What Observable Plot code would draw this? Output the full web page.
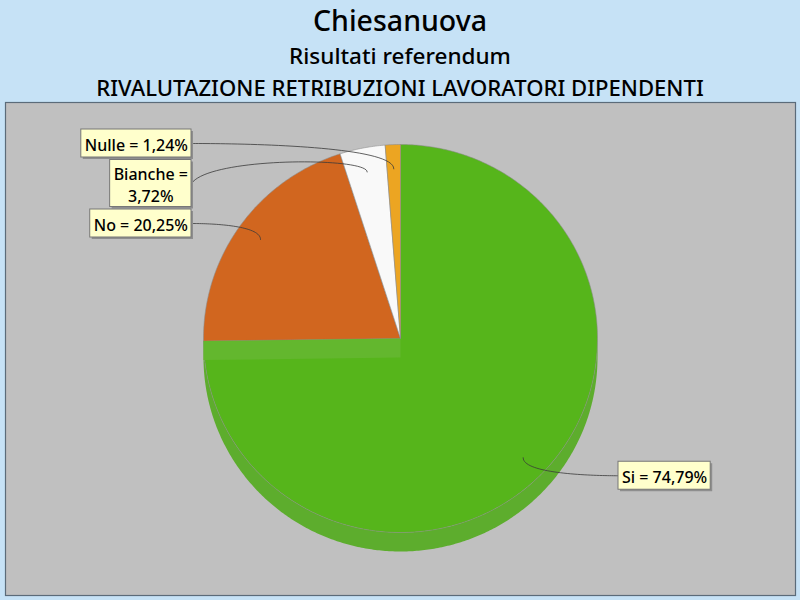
<!DOCTYPE html>
<html>
<head>
<meta charset="utf-8">
<script src="https://cdn.jsdelivr.net/npm/d3@7"></script>
<script src="https://cdn.jsdelivr.net/npm/@observablehq/plot@0.6"></script>
<style>
  body { margin: 0; background: #c6e2f6; font-family: 'Noto Sans', sans-serif; }
  #wrap { width: 800px; height: 600px; position: relative; overflow: hidden; background: #c6e2f6; }
  .t { position: absolute; left: 0; width: 800px; text-align: center; color: #000; white-space: nowrap; font-weight: 500; }
  #chart { position: absolute; left: 0; top: 100px; }
</style>
</head>
<body>
<div id="wrap">
  <div class="t" id="t1"></div>
  <div class="t" id="t2"></div>
  <div class="t" id="t3"></div>
  <div id="chart"></div>
</div>
<script>
// ---------- data ----------
const titleLines = ["Chiesanuova", "Risultati referendum", "RIVALUTAZIONE RETRIBUZIONI LAVORATORI DIPENDENTI"];
const categories = ["Si", "No", "Bianche", "Nulle"];
const percentages = [74.79, 20.25, 3.72, 1.24];
const sliceColors = ["#56b51b", "#d1661f", "#f9f9f9", "#eca522"];
const sideColors = ["#5dad2d", "#b85a1c", "#dcdcdc", "#d08f1c"];

// ---------- titles ----------
const titleStyle = [
  {size: 28.5, center: 20},
  {size: 22.5, center: 55},
  {size: 22.1, center: 87}
];
titleLines.forEach((txt, i) => {
  const el = document.getElementById("t" + (i + 1));
  const s = titleStyle[i];
  const lh = Math.round(s.size * 1.3);
  el.textContent = txt;
  el.style.fontSize = s.size + "px";
  el.style.lineHeight = lh + "px";
  el.style.top = (s.center - lh / 2) + "px";
});

// ---------- geometry ----------
const cx = 400, cy = 338, rx = 197, ry = 194, depth = 19;
const total = d3.sum(percentages);
const TAU = Math.PI * 2;
const slices = [];
let acc = 0;
categories.forEach((c, i) => {
  const a0 = acc / total * TAU;
  acc += percentages[i];
  const a1 = acc / total * TAU;
  slices.push({cat: c, pct: percentages[i], a0, a1, color: sliceColors[i], side: sideColors[i]});
});
const pt = (a, k = 1, dy = 0) => ({x: cx + k * rx * Math.sin(a), y: cy - k * ry * Math.cos(a) + dy});
function arcPts(a0, a1, dy = 0) {
  const n = Math.max(2, Math.ceil(Math.abs(a1 - a0) / 0.01));
  const out = [];
  for (let j = 0; j <= n; j++) out.push(pt(a0 + (a1 - a0) * j / n, 1, dy));
  return out;
}

// side walls (front half)
const sideRows = [];
slices.forEach(s => {
  const lo = Math.max(s.a0, Math.PI / 2), hi = Math.min(s.a1, 3 * Math.PI / 2);
  if (lo < hi) {
    const top = arcPts(lo, hi, 0), bot = arcPts(hi, lo, depth);
    [...top, ...bot].forEach(p => sideRows.push({key: s.cat, x: p.x, y: p.y, fill: s.side}));
  }
});
// top faces
const topRows = [];
slices.forEach(s => {
  const pts = [{x: cx, y: cy}, ...arcPts(s.a0, s.a1), {x: cx, y: cy}];
  pts.forEach(p => topRows.push({key: s.cat, x: p.x, y: p.y, fill: s.color}));
});
// radial wall drawn at the end of the first slice
const wallRows = [];
{
  const s = slices[0];
  const e = pt(s.a1);
  [{x: cx, y: cy}, e, {x: e.x, y: e.y + depth}, {x: cx, y: cy + depth}]
    .forEach(p => wallRows.push({key: "wall", x: p.x, y: p.y, fill: "#63b72e"}));
}

// ---------- labels ----------
const fontPx = 16;
const fontFam = "'Noto Sans', sans-serif";
const ctx = document.createElement("canvas").getContext("2d");
ctx.font = `500 ${fontPx}px ${fontFam}`;
const fmt = v => v.toFixed(2).replace(".", ",") + "%";
const labels = slices.map(s => {
  const full = `${s.cat} = ${fmt(s.pct)}`;
  let lines = [full];
  if (ctx.measureText(full).width > 114) lines = [`${s.cat} =`, fmt(s.pct)];
  const w = Math.max(...lines.map(l => ctx.measureText(l).width)) + 7;
  const h = 28 + 19 * (lines.length - 1);
  const mid = (s.a0 + s.a1) / 2;
  const anchor = pt(mid, 0.875);
  return {s, lines, text: lines.join("\n"), w, h, mid, anchor, left: mid > Math.PI};
});
// left stack (top-down, by angle descending)
let yTop = cy - ry - 15;
labels.filter(l => l.left).sort((a, b) => b.mid - a.mid).forEach(l => {
  l.x2 = cx - rx - 12; l.x1 = l.x2 - l.w;
  l.y1 = yTop; l.y2 = yTop + l.h; yTop = l.y2 + 2.5;
  l.attach = {x: l.x2, y: (l.y1 + l.y2) / 2};
});
labels.filter(l => !l.left).forEach(l => {
  l.x1 = cx + rx + 21; l.x2 = l.x1 + l.w;
  const yc = l.anchor.y + 18;
  l.y1 = yc - l.h / 2; l.y2 = yc + l.h / 2;
  l.attach = {x: l.x1, y: yc};
});
// leader curves (cubic bezier)
const leaderRows = [];
labels.forEach(l => {
  const A = l.attach, B = l.anchor;
  const ctrlY = l.left ? Math.min(A.y, B.y - 15) : A.y;
  const c1 = {x: A.x + (B.x - A.x) * 0.1, y: ctrlY}, c2 = {x: B.x, y: ctrlY};
  for (let j = 0; j <= 40; j++) {
    const t = j / 40, u = 1 - t;
    leaderRows.push({
      key: l.s.cat,
      x: u*u*u*A.x + 3*u*u*t*c1.x + 3*u*t*t*c2.x + t*t*t*B.x,
      y: u*u*u*A.y + 3*u*u*t*c1.y + 3*u*t*t*c2.y + t*t*t*B.y
    });
  }
});

// ---------- plot ----------
const chart = Plot.plot({
  width: 800,
  height: 500,
  marginLeft: 5, marginRight: 5, marginTop: 2, marginBottom: 5,
  x: {domain: [0, 800], range: [0, 800], axis: null},
  y: {domain: [100, 600], range: [0, 500], axis: null},
  style: {background: "transparent", overflow: "visible"},
  marks: [
    Plot.frame({fill: "#c0c0c0", stroke: "#5b6b79", strokeWidth: 1.2}),
    Plot.line(sideRows, {x: "x", y: "y", z: "key", fill: "fill", stroke: "none", curve: "linear"}),
    Plot.line(topRows, {x: "x", y: "y", z: "key", fill: "fill", stroke: "#8a8a8a", strokeWidth: 0.7, strokeOpacity: 0.8, curve: "linear"}),
    Plot.line(wallRows, {x: "x", y: "y", z: "key", fill: "fill", stroke: "none", curve: "linear"}),
    Plot.line(leaderRows, {x: "x", y: "y", z: "key", stroke: "#3a3a3a", strokeWidth: 0.8, curve: "linear"}),
    Plot.rect(labels, {x1: "x1", x2: "x2", y1: "y1", y2: "y2", dx: 2, dy: 2, fill: "#8e8e8e"}),
    Plot.rect(labels, {x1: "x1", x2: "x2", y1: "y1", y2: "y2", fill: "#ffffcc", stroke: "#777777", strokeWidth: 1}),
    Plot.text(labels, {
      x: d => (d.x1 + d.x2) / 2, y: d => (d.y1 + d.y2) / 2, text: "text",
      fontSize: fontPx, fontFamily: fontFam, fontWeight: 500, fill: "#000",
      lineHeight: 22 / 16, textAnchor: "middle"
    })
  ]
});
document.getElementById("chart").appendChild(chart);
</script>
</body>
</html>
